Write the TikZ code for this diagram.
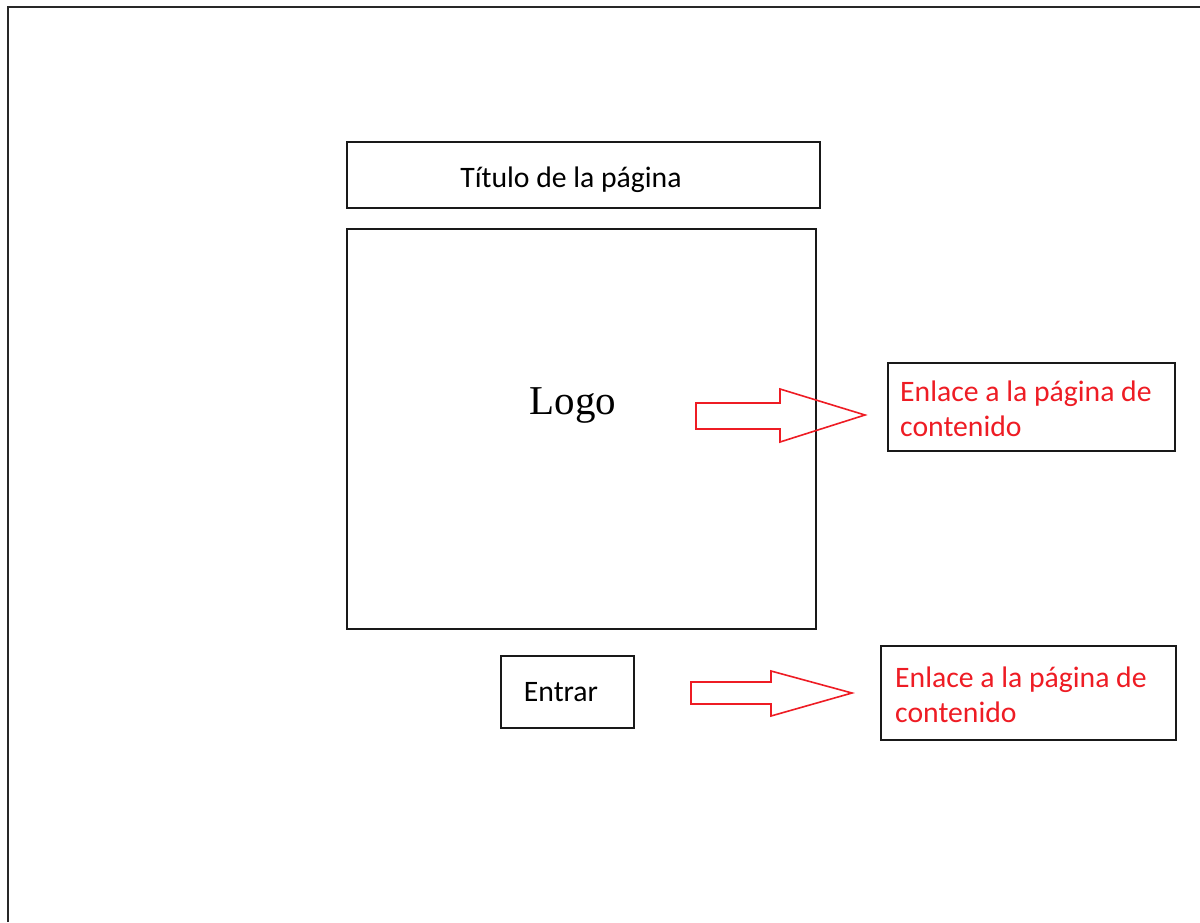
\documentclass[tikz,border=0pt]{standalone}
\usepackage{fontspec}
\setmainfont{Carlito}
\newfontfamily\logofont{Liberation Serif}
\definecolor{linkred}{RGB}{238,28,36}
\definecolor{framegray}{RGB}{40,40,40}
\begin{document}
\begin{tikzpicture}[x=1pt,y=-1pt,
  box/.style={draw=black!90,line width=1.9pt,anchor=north west,inner sep=0pt},
  lbl/.style={font=\fontsize{29.7}{35}\selectfont,inner sep=0pt},
  link/.style={lbl,text=linkred,align=left,anchor=west},
  bigarrow/.style={draw=linkred,line width=1.6pt,line join=miter}]
\useasboundingbox (0,0) rectangle (1200,922);
\fill[white] (0,0) rectangle (1200,922);
% outer page frame
\coordinate (fbl) at (8,922);
\coordinate (ftl) at (8,7);
\coordinate (ftr) at (1200,7);
\draw[framegray,line width=2.4pt] (fbl) -- (ftl) -- (ftr);
% title
\node[box,minimum width=473pt,minimum height=66pt] (title) at (346,141) {};
\node[lbl] (titletext) at (571,180) {Título de la página};
% logo
\node[box,minimum width=469pt,minimum height=400pt] (logo) at (346,228) {};
\node[font=\logofont\fontsize{41}{48}\selectfont,inner sep=0pt] (logotext) at (573,405) {Logo};
% entrar
\node[box,minimum width=133pt,minimum height=72pt] (entrar) at (500,655) {};
\node[lbl] (entrartext) at (561,692) {Entrar};
% link boxes
\node[box,minimum width=287pt,minimum height=88pt] (link1) at (887,362) {};
\node[link] (link1text) at (900,409) {Enlace a la página de\\contenido};
\node[box,minimum width=295pt,minimum height=94pt] (link2) at (880,645) {};
\node[link] (link2text) at (895,695) {Enlace a la página de\\contenido};
% arrows
\draw[bigarrow] (696,403) -- (780,403) -- (780,389) -- (865,415) -- (780,442) -- (780,429) -- (696,429) -- cycle;
\draw[bigarrow] (691,682) -- (771,682) -- (771,671) -- (852,693) -- (771,716) -- (771,704) -- (691,704) -- cycle;
\end{tikzpicture}
\end{document}
